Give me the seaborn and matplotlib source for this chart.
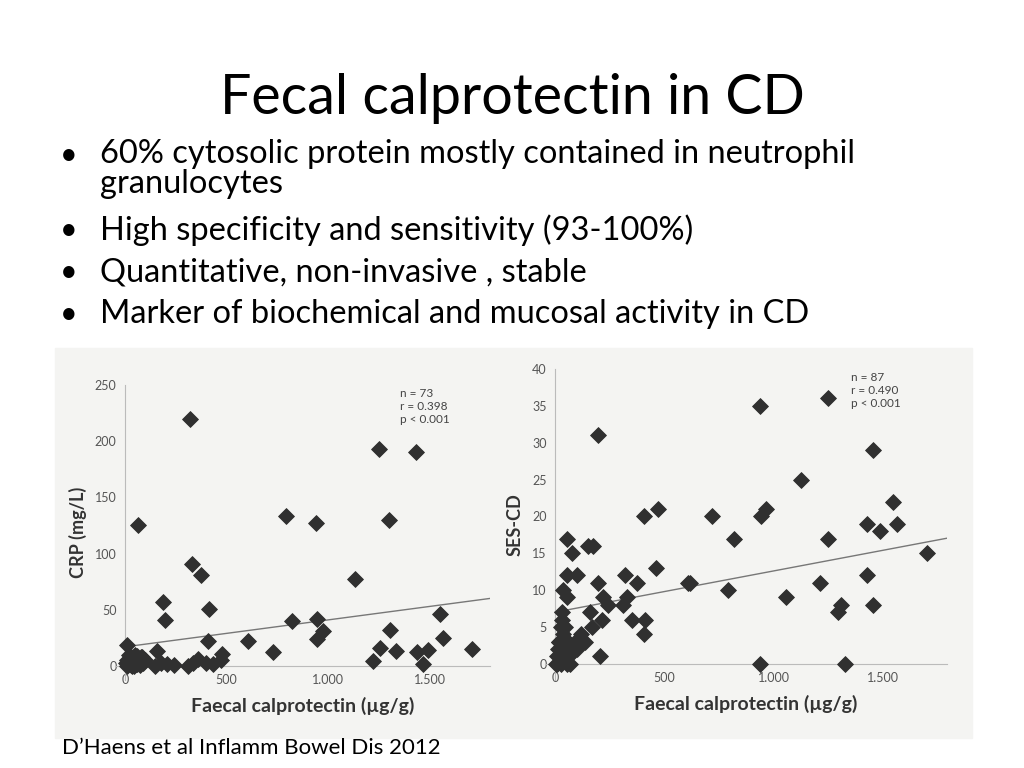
import matplotlib
matplotlib.use("Agg")
import matplotlib.pyplot as plt
import seaborn as sns
import numpy as np
import pandas as pd
from matplotlib.patches import Rectangle

# Left panel: CRP vs faecal calprotectin
crp_fc = [66,320,328,374,415,410,189,197,11,156,475,603,726,792,820,939,943,975,943,1131,1251,1300,1303,1218,1254,1333,1431,1434,1464,1492,1549,1566,1708,
          5,10,15,20,25,30,35,40,45,50,55,60,65,70,75,80,90,100,12,28,42,58,72,150,175,205,240,310,335,360,400,435,470,20,48,85,33]
crp_val = [125,220,91,81,51,22,57,41,19,13,11,22,12,133,40,127,42,31,24,77,193,130,32,4,16,13,190,12,2,14,46,25,15,
           3,5,2,6,4,8,1,3,7,5,2,9,4,6,1,8,3,5,0,1,0,2,3,0,3,2,1,0,3,6,3,2,5,10,10,8,0]
# Right panel: SES-CD vs faecal calprotectin
ses_fc = [198,937,1249,1454,1127,1546,469,408,716,944,967,1428,1485,1565,819,1249,1703,460,606,617,792,1058,1210,1428,1310,1295,1454,937,1325,
          320,373,327,312,350,411,408,198,213,206,221,244,152,175,160,167,137,53,76,53,99,38,53,30,30,46,
          5,10,15,20,25,30,35,40,45,50,55,60,65,70,80,90,100,110,120,8,18,28,38,48,58,68,78]
ses_val = [31,35,36,29,25,22,21,20,20,20,21,19,18,19,17,17,15,13,11,11,10,9,11,12,8,7,8,0,0,
           12,11,9,8,6,6,4,11,6,1,9,8,16,16,7,5,3,17,15,12,12,10,9,7,6,5,
           0,1,2,3,0,2,4,1,3,2,0,3,1,2,2,3,2,3,4,0,3,5,2,1,3,0,2]

stats_left = ["n = 73", "r = 0.398", "p < 0.001"]
stats_right = ["n = 87", "r = 0.490", "p < 0.001"]

title = "Fecal calprotectin in CD"
bullets = ["60% cytosolic protein mostly contained in neutrophil\ngranulocytes",
           "High specificity and sensitivity (93-100%)",
           "Quantitative, non-invasive , stable",
           "Marker of biochemical and mucosal activity in CD"]
citation = "D\u2019Haens et al Inflamm Bowel Dis 2012"

plt.rcParams["font.family"] = "Lato"
fig = plt.figure(figsize=(10.24, 7.68), dpi=100)
W, H = 1024, 768
def fx(x): return x / W
def fy(y): return 1 - y / H

fig.text(0.5, fy(98), title, ha="center", va="center", fontsize=40, color="#000")
ys = [155, 230, 272, 314]
for t, y in zip(bullets, ys):
    fig.text(fx(60), fy(y), "\u2022", ha="left", va="center", fontsize=22)
    if "\n" in t:
        fig.text(fx(100), fy(y - 16), t, ha="left", va="top", fontsize=23.5, linespacing=1.0)
    else:
        fig.text(fx(100), fy(y), t, ha="left", va="center", fontsize=23.5)

fig.patches.append(Rectangle((fx(55), fy(738)), fx(972 - 55), (738 - 348) / H,
                             transform=fig.transFigure, color="#f4f4f2", zorder=-5))
fig.text(fx(62), fy(748), citation, ha="left", va="center", fontsize=16)

def panel(rect, x, y, ylim, xlim, yticks, ylabel, stats, line):
    ax = fig.add_axes(rect)
    ax.set_facecolor("none")
    df = pd.DataFrame({"x": x, "y": y})
    sns.scatterplot(data=df, x="x", y="y", marker="D", s=65, color="#303030",
                    edgecolor="#303030", ax=ax, zorder=3, clip_on=False)
    xs = np.array([0, 1800])
    ax.plot(xs, line[0] + line[1] * xs, color="#777", lw=1)
    ax.set_xlim(*xlim); ax.set_ylim(*ylim)
    ax.set_xticks([0, 500, 1000, 1500]); ax.set_xticklabels(["0", "500", "1.000", "1.500"])
    ax.set_yticks(yticks)
    for s in ["top", "right"]: ax.spines[s].set_visible(False)
    for s in ["left", "bottom"]: ax.spines[s].set_color("#bbb")
    ax.spines["bottom"].set_position(("data", 0))
    ax.spines["left"].set_position(("data", 0))
    ax.tick_params(colors="#555", labelsize=9, length=0, pad=6)
    ax.set_xlabel("Faecal calprotectin (\u00b5g/g)", fontsize=14, fontweight="bold", color="#333", labelpad=8)
    ax.set_ylabel(ylabel, fontsize=13, fontweight="bold", color="#333", labelpad=6)
    ax.text(0.76, 0.99, "\n".join(stats), transform=ax.transAxes, fontsize=8.5, color="#444", va="top")
    return ax

panel([fx(115), fy(680), (490 - 115) / W, (680 - 385) / H], crp_fc, crp_val, (-12.5, 250), (-49, 1795),
      [0, 50, 100, 150, 200, 250], "CRP (mg/L)", stats_left, (17, 0.024))
panel([fx(545), fy(680), (947 - 545) / W, (680 - 369) / H], ses_fc, ses_val, (-2.2, 40), (-46, 1793),
      [0, 5, 10, 15, 20, 25, 30, 35, 40], "SES-CD", stats_right, (7, 0.0056))

fig.savefig("out.png", dpi=100)
